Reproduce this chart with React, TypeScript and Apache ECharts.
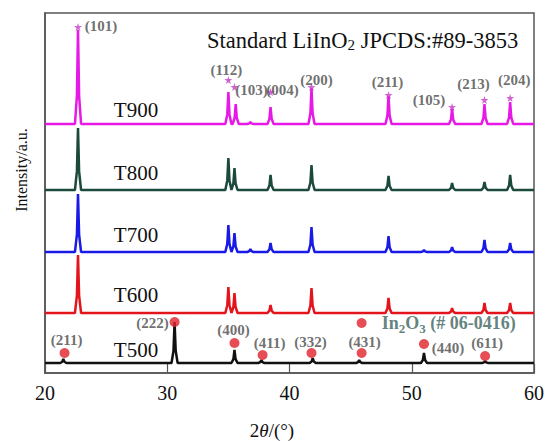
import React, { useEffect, useRef } from "react";
import * as echarts from "echarts";

const xTicks = [20, 30, 40, 50, 60];
const samples = ["T500", "T600", "T700", "T800", "T900"];
const sampleColors = ["#111111", "#e3141c", "#1a1ae6", "#1b4a3c", "#e619e6"];
const baselines = [10, 60, 121, 183, 249];
const sampleLabelY = [350, 295, 235, 173, 110];

// [2θ, peak height above baseline]
const peaksT500 = [[21.5, 4], [30.6, 41], [35.5, 13], [37.7, 3], [41.9, 5], [45.7, 3], [51.0, 10], [56.0, 2]];
const peaksT600 = [[22.7, 58], [35.0, 26], [35.5, 20], [38.45, 8], [41.8, 25], [48.1, 15], [53.3, 5], [55.95, 10], [58.05, 10]];
const peaksT700 = [[22.7, 58], [35.0, 27], [35.5, 19], [36.8, 3], [38.45, 9], [41.8, 25], [48.1, 16], [51.0, 2], [53.3, 5], [55.95, 12], [58.05, 9]];
const peaksT800 = [[22.7, 62], [35.0, 32], [35.5, 22], [38.45, 15], [41.8, 25], [48.1, 14], [53.3, 7], [55.95, 8], [58.05, 15]];
const peaksT900 = [[22.7, 94], [35.0, 32], [35.6, 20], [36.8, 2], [38.45, 17], [41.8, 36], [48.1, 28], [53.3, 15], [55.95, 20], [58.05, 22]];
const allPeaks = [peaksT500, peaksT600, peaksT700, peaksT800, peaksT900];

// LiInO2 star markers: [2θ, y, label, dx, dy]
const starMarks: [number, number, string, number, number][] = [
  [22.7, 346, "(101)", 23, -1],
  [35.0, 293, "(112)", -2, -10],
  [35.5, 286, "(103)", 17, 3],
  [38.45, 281, "(004)", 12, -2],
  [41.8, 286, "(200)", 5, -7],
  [48.1, 278, "(211)", -1, -13],
  [53.3, 266, "(105)", -23, -7],
  [55.95, 273, "(213)", -11, -16],
  [58.05, 275, "(204)", 4, -18],
];

// In2O3 circle markers: [2θ, y, label, dx, dy]
const circleMarks: [number, number, string, number, number][] = [
  [21.6, 20, "(211)", 2, -13],
  [30.6, 51, "(222)", -22, 1],
  [35.5, 30, "(400)", -1, -13],
  [37.8, 18, "(411)", 7, -12],
  [41.8, 20, "(332)", -1, -11],
  [45.9, 20, "(431)", 3, -11],
  [51.0, 29, "(440)", 24, 4],
  [56.0, 17, "(611)", 2, -13],
];
const legendDot: [number, number] = [45.9, 50];

const STAR = "path://M50,0 L61,35 L98,35 L68,57 L79,91 L50,70 L21,91 L32,57 L2,35 L39,35 Z";
const SERIF = "'Liberation Serif', 'DejaVu Serif', serif";

function profile(peaks: number[][], base: number): number[][] {
  const pts: number[][] = [[20, base]];
  peaks.forEach(([p, h]) => {
    pts.push([p - 0.25, base], [p - 0.09, base + h * 0.3], [p, base + h], [p + 0.09, base + h * 0.3], [p + 0.25, base]);
  });
  pts.push([60, base]);
  return pts;
}

const markLabel = (t: string, dx: number, dy: number) => ({
  show: true,
  formatter: t,
  position: "inside",
  offset: [dx, dy],
  color: "#4a4a4a",
  fontFamily: SERIF,
  fontSize: 15,
  fontWeight: "bold",
});

export default function App() {
  const ref = useRef<HTMLDivElement>(null);
  useEffect(() => {
    document.body.style.margin = "0";
    const chart = echarts.init(ref.current!, null, { renderer: "svg" });
    const lineSeries = samples.map((s, i) => ({
      type: "line",
      name: s,
      data: profile(allPeaks[i], baselines[i]),
      showSymbol: false,
      lineStyle: { color: sampleColors[i], width: 2.5 },
      z: 2,
    }));
    const option: any = {
      animation: false,
      grid: { left: 45, right: 10, top: 13, bottom: 68, show: true, borderColor: "#555", borderWidth: 1.5, backgroundColor: "transparent" },
      xAxis: {
        type: "value",
        min: xTicks[0],
        max: xTicks[xTicks.length - 1],
        interval: 10,
        axisLine: { show: true, onZero: false, lineStyle: { color: "#555", width: 1.5 } },
        axisTick: { show: true, inside: true, length: 9, lineStyle: { color: "#555", width: 1.2 } },
        axisLabel: { color: "#111", fontFamily: SERIF, fontSize: 20, margin: 10 },
        splitLine: { show: false },
      },
      yAxis: {
        type: "value",
        min: 0,
        max: 360,
        axisLine: { show: true, lineStyle: { color: "#555", width: 1.5 } },
        axisTick: { show: false },
        axisLabel: { show: false },
        splitLine: { show: false },
      },
      series: [
        ...lineSeries,
        {
          type: "scatter",
          symbol: STAR,
          symbolSize: 8,
          itemStyle: { color: "#c43cc4" },
          z: 5,
          data: starMarks.map(([x, y, t, dx, dy]) => ({ value: [x, y], label: markLabel(t, dx, dy) })),
        },
        {
          type: "scatter",
          symbol: "circle",
          symbolSize: 10,
          itemStyle: { color: "#e0202a" },
          z: 5,
          data: [
            ...circleMarks.map(([x, y, t, dx, dy]) => ({ value: [x, y], label: markLabel(t, dx, dy) })),
            {
              value: legendDot,
              label: {
                show: true,
                position: "right",
                distance: 15,
                formatter: "In{s|2}O{s|3} (# 06-0416)",
                color: "#3a625c",
                fontFamily: SERIF,
                fontSize: 18,
                fontWeight: "bold",
                rich: { s: { fontSize: 13, padding: [10, 0, 0, 0], color: "#3a625c", fontFamily: SERIF, fontWeight: "bold" } },
              },
            },
          ],
        },
      ],
      graphic: [
        {
          type: "text",
          x: 207,
          y: 40,
          style: {
            text: "Standard LiInO{s|2} JPCDS:#89-3853",
            fill: "#111",
            font: `22.5px ${SERIF}`,
            align: "left",
            verticalAlign: "middle",
            rich: { s: { fontSize: 15, padding: [10, 0, 0, 0], fill: "#111", fontFamily: SERIF } },
          },
        },
        ...samples.map((s, i) => ({
          type: "text",
          x: 136,
          y: sampleLabelY[i],
          style: { text: s, fill: "#111", font: `21px ${SERIF}`, align: "center", verticalAlign: "middle" },
        })),
        {
          type: "text",
          x: 21,
          y: 170,
          rotation: Math.PI / 2,
          style: { text: "Intensity/a.u.", fill: "#111", font: `16px ${SERIF}`, align: "center", verticalAlign: "middle" },
        },
        {
          type: "text",
          x: 272,
          y: 430,
          style: {
            text: "2{i|θ}/(°)",
            fill: "#111",
            font: `19px ${SERIF}`,
            align: "center",
            verticalAlign: "middle",
            rich: { i: { fontStyle: "italic", fontSize: 19, fontFamily: SERIF, fill: "#111" } },
          },
        },
      ],
    };
    chart.setOption(option);
    return () => chart.dispose();
  }, []);
  return <div ref={ref} style={{ width: 547, height: 441 }} />;
}
